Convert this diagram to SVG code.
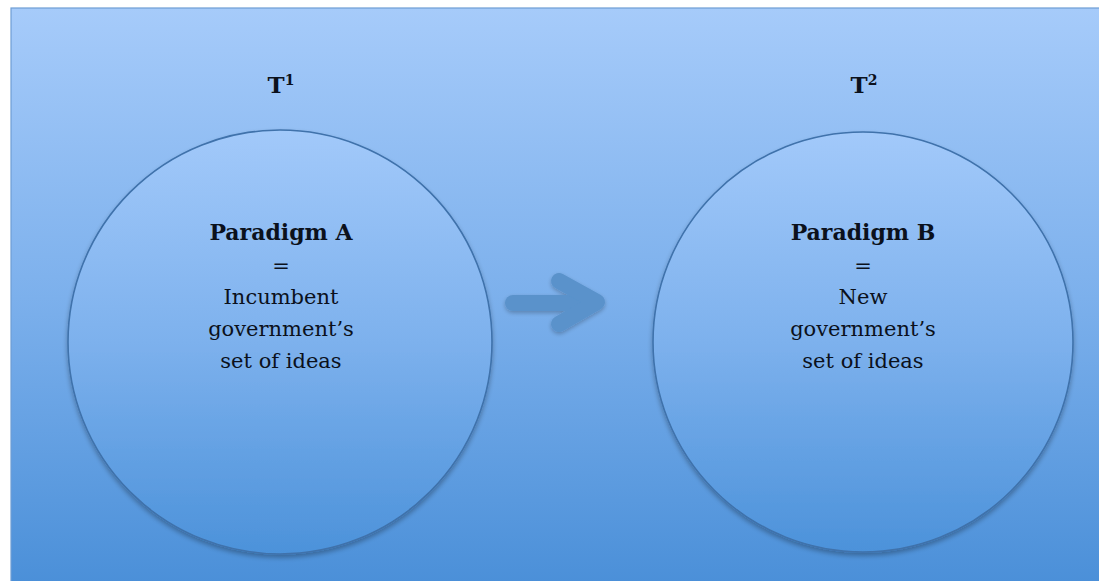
<svg xmlns="http://www.w3.org/2000/svg" width="1099" height="581" viewBox="0 0 1099 581">
  <defs>
    <linearGradient id="bg" x1="0" y1="0" x2="0" y2="1">
      <stop offset="0" stop-color="#a6cbfa"/>
      <stop offset="0.5" stop-color="#7cb0ec"/>
      <stop offset="1" stop-color="#4a8fd8"/>
    </linearGradient>
    <linearGradient id="cg" x1="0" y1="0" x2="0" y2="1">
      <stop offset="0" stop-color="#a2c9fa"/>
      <stop offset="0.5" stop-color="#7db1ed"/>
      <stop offset="1" stop-color="#4c92da"/>
    </linearGradient>
    <filter id="sh" x="-10%" y="-10%" width="120%" height="125%">
      <feGaussianBlur in="SourceAlpha" stdDeviation="2.5"/>
      <feOffset dx="0" dy="3" result="b"/>
      <feComponentTransfer><feFuncA type="linear" slope="0.3"/></feComponentTransfer>
      <feMerge><feMergeNode/><feMergeNode in="SourceGraphic"/></feMerge>
    </filter>
    <filter id="ash" filterUnits="userSpaceOnUse" x="490" y="260" width="130" height="90">
      <feGaussianBlur in="SourceAlpha" stdDeviation="2"/>
      <feOffset dx="0" dy="2" result="b"/>
      <feComponentTransfer><feFuncA type="linear" slope="0.25"/></feComponentTransfer>
      <feMerge><feMergeNode/><feMergeNode in="SourceGraphic"/></feMerge>
    </filter>
    <style>
      .circ { fill: url(#cg); stroke: #3f72ab; stroke-width: 1.6; }
      .t { font-family: "DejaVu Serif", "Liberation Serif", serif; fill: #0b111c; text-anchor: middle; font-size: 21px; }
      .b { font-weight: bold; font-size: 22px; }
      .hd { font-family: "DejaVu Serif", "Liberation Serif", serif; fill: #0b111c; font-weight: bold; font-size: 23px; }
      .arr { stroke: #5a92cb; fill: none; stroke-width: 16; stroke-linecap: round; stroke-linejoin: round; }
    </style>
  </defs>
  <rect width="1099" height="581" fill="#ffffff"/>
  <rect x="11" y="8" width="1100" height="580" fill="url(#bg)" stroke="#6e9dd4" stroke-width="1.2"/>

  <g id="t1">
    <text class="hd" x="281" y="93" text-anchor="middle">T<tspan font-size="14" dy="-8">1</tspan></text>
  </g>
  <g id="t2">
    <text class="hd" x="864" y="93" text-anchor="middle">T<tspan font-size="14" dy="-8">2</tspan></text>
  </g>

  <g id="paradigmA">
    <circle class="circ" cx="280" cy="342" r="212" filter="url(#sh)"/>
    <text class="t b" x="281" y="240">Paradigm A</text>
    <text class="t" x="281" y="273">=</text>
    <text class="t" x="281" y="304">Incumbent</text>
    <text class="t" x="281" y="336">government’s</text>
    <text class="t" x="281" y="368">set of ideas</text>
  </g>

  <g id="paradigmB">
    <circle class="circ" cx="863" cy="342" r="210" filter="url(#sh)"/>
    <text class="t b" x="863" y="240">Paradigm B</text>
    <text class="t" x="863" y="273">=</text>
    <text class="t" x="863" y="304">New</text>
    <text class="t" x="863" y="336">government’s</text>
    <text class="t" x="863" y="368">set of ideas</text>
  </g>

  <g id="connectors">
    <g filter="url(#ash)">
      <path class="arr" d="M513 303 L594 303"/>
      <path class="arr" d="M559 281 L597 302 L559 324"/>
    </g>
  </g>
</svg>
